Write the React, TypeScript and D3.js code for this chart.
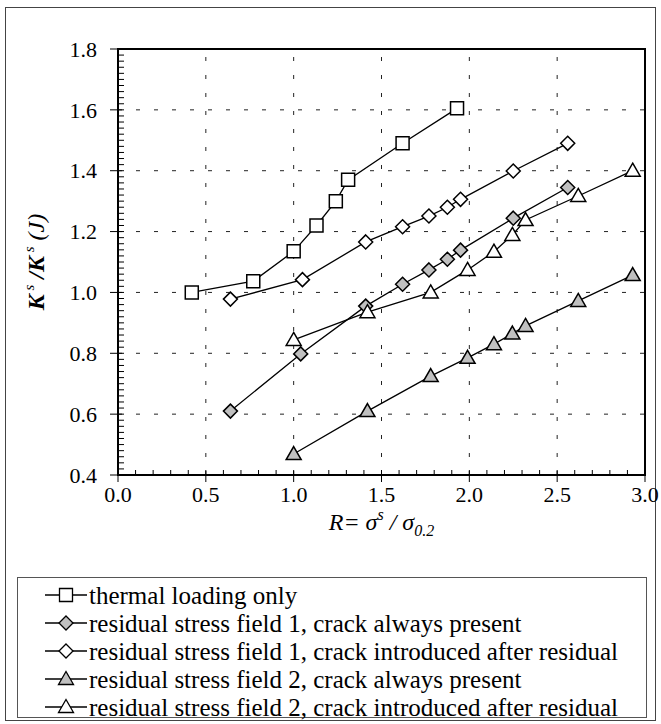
import React, { useEffect, useRef } from "react";
import * as d3 from "d3";

// data
const thermalX = [0.42, 0.77, 1.0, 1.13, 1.24, 1.31, 1.62, 1.93];
const thermalY = [1.0, 1.037, 1.135, 1.22, 1.3, 1.37, 1.49, 1.605];

const field1X = [0.64, 1.04, 1.41, 1.62, 1.77, 1.875, 1.95, 2.25, 2.56];
const field1PresentY = [0.61, 0.798, 0.955, 1.027, 1.074, 1.109, 1.139, 1.244, 1.345];
const field1AfterX = [0.64, 1.05, 1.41, 1.62, 1.77, 1.875, 1.95, 2.25, 2.56];
const field1AfterY = [0.978, 1.042, 1.166, 1.216, 1.251, 1.28, 1.306, 1.399, 1.49];

const field2X = [1.0, 1.42, 1.78, 1.99, 2.14, 2.245, 2.32, 2.62, 2.93];
const field2PresentY = [0.469, 0.61, 0.725, 0.785, 0.83, 0.865, 0.89, 0.972, 1.057];
const field2AfterY = [0.844, 0.935, 1.0, 1.074, 1.134, 1.189, 1.238, 1.317, 1.4];

const seriesNames = [
  "thermal loading only",
  "residual stress field 1, crack always present",
  "residual stress field 1, crack introduced after residual",
  "residual stress field 2, crack always present",
  "residual stress field 2, crack introduced after residual",
];

const xTicks = [0, 0.5, 1.0, 1.5, 2.0, 2.5, 3.0];
const yTicks = [0.4, 0.6, 0.8, 1.0, 1.2, 1.4, 1.6, 1.8];

const FONT = "'Liberation Serif', 'Times New Roman', 'DejaVu Serif', serif";
const GRAY = "#c0c0c0";

const App = () => {
  const svgRef = useRef(null);
  const width = 661;
  const height = 724;
  const plot = { left: 118, right: 645, top: 49, bottom: 475 };

  useEffect(() => {
    const svg = d3.select(svgRef.current);
    svg.selectAll("*").remove();

    const x = d3.scaleLinear().domain([0, 3]).range([plot.left, plot.right]);
    const y = d3.scaleLinear().domain([0.4, 1.8]).range([plot.bottom, plot.top]);

    const series = [
      { xs: thermalX, ys: thermalY, shape: "square", fill: "white" },
      { xs: field1X, ys: field1PresentY, shape: "diamond", fill: GRAY },
      { xs: field1AfterX, ys: field1AfterY, shape: "diamond", fill: "white" },
      { xs: field2X, ys: field2PresentY, shape: "triangle", fill: GRAY },
      { xs: field2X, ys: field2AfterY, shape: "triangle", fill: "white" },
    ];

    const symbolPath = (shape) => {
      if (shape === "square") return "M-6.5,-6.5H6.5V6.5H-6.5Z";
      if (shape === "diamond") return "M0,-7L7,0L0,7L-7,0Z";
      return "M0,-7.5L7.5,5.5H-7.5Z";
    };

    // outer frame
    svg
      .append("rect")
      .attr("x", 5.5)
      .attr("y", 7.5)
      .attr("width", 650)
      .attr("height", 713)
      .attr("fill", "white")
      .attr("stroke", "#444")
      .attr("stroke-width", 1);

    // grid
    const grid = svg.append("g").attr("stroke", "#222").attr("stroke-width", 1).attr("stroke-dasharray", "4,14");
    grid
      .selectAll(".gx")
      .data(xTicks.slice(1, -1))
      .enter()
      .append("line")
      .attr("x1", (d) => x(d))
      .attr("x2", (d) => x(d))
      .attr("y1", plot.bottom)
      .attr("y2", plot.top);
    grid
      .selectAll(".gy")
      .data(yTicks.slice(1, -1))
      .enter()
      .append("line")
      .attr("x1", plot.left)
      .attr("x2", plot.right)
      .attr("y1", (d) => y(d))
      .attr("y2", (d) => y(d));

    // minor ticks (inside)
    const minorX = d3.range(1, 30).map((i) => i / 10);
    svg
      .append("g")
      .selectAll("line")
      .data(minorX)
      .enter()
      .append("line")
      .attr("x1", (d) => x(d))
      .attr("x2", (d) => x(d))
      .attr("y1", plot.bottom)
      .attr("y2", plot.bottom - 5)
      .attr("stroke", "black");
    const minorY = d3.range(21, 90).map((i) => i / 50);
    svg
      .append("g")
      .selectAll("line")
      .data(minorY)
      .enter()
      .append("line")
      .attr("x1", plot.left)
      .attr("x2", plot.left + 6)
      .attr("y1", (d) => y(d))
      .attr("y2", (d) => y(d))
      .attr("stroke", "black");

    // major ticks (outside)
    svg
      .append("g")
      .selectAll("line")
      .data(xTicks)
      .enter()
      .append("line")
      .attr("x1", (d) => x(d))
      .attr("x2", (d) => x(d))
      .attr("y1", plot.bottom)
      .attr("y2", plot.bottom + 7)
      .attr("stroke", "black");
    svg
      .append("g")
      .selectAll("line")
      .data(yTicks)
      .enter()
      .append("line")
      .attr("x1", plot.left - 8)
      .attr("x2", plot.left)
      .attr("y1", (d) => y(d))
      .attr("y2", (d) => y(d))
      .attr("stroke", "black");

    // plot frame
    svg
      .append("rect")
      .attr("x", plot.left)
      .attr("y", plot.top)
      .attr("width", plot.right - plot.left)
      .attr("height", plot.bottom - plot.top)
      .attr("fill", "none")
      .attr("stroke", "black")
      .attr("stroke-width", 2);

    // tick labels
    svg
      .selectAll(".xl")
      .data(xTicks)
      .enter()
      .append("text")
      .attr("x", (d) => x(d))
      .attr("y", plot.bottom + 27)
      .attr("text-anchor", "middle")
      .style("font-family", FONT)
      .style("font-size", "22px")
      .text((d) => d3.format(".1f")(d));
    svg
      .selectAll(".yl")
      .data(yTicks)
      .enter()
      .append("text")
      .attr("x", plot.left - 21)
      .attr("y", (d) => y(d))
      .attr("dy", "0.35em")
      .attr("text-anchor", "end")
      .style("font-family", FONT)
      .style("font-size", "22px")
      .text((d) => d3.format(".1f")(d));

    // x axis title
    const xt = svg
      .append("text")
      .attr("x", (plot.left + plot.right) / 2)
      .attr("y", 530)
      .attr("text-anchor", "middle")
      .style("font-family", FONT)
      .style("font-size", "24px")
      .style("font-style", "italic");
    xt.append("tspan").text("R= σ");
    xt.append("tspan").attr("dy", -10).style("font-size", "16px").text("s");
    xt.append("tspan").attr("dy", 10).text(" / σ");
    xt.append("tspan").attr("dy", 6).style("font-size", "16px").text("0.2");

    // y axis title
    const yt = svg
      .append("text")
      .attr("transform", `translate(44, ${(plot.top + plot.bottom) / 2}) rotate(-90)`)
      .attr("text-anchor", "middle")
      .style("font-family", FONT)
      .style("font-size", "24px")
      .style("font-style", "italic")
      .style("font-weight", "bold");
    yt.append("tspan").text("K");
    yt.append("tspan").attr("dy", -10).style("font-size", "15px").style("font-weight", "normal").text(" s");
    yt.append("tspan").attr("dy", 10).text(" /K");
    yt.append("tspan").attr("dy", -10).style("font-size", "15px").style("font-weight", "normal").text(" s");
    yt.append("tspan").attr("dy", 10).style("font-weight", "normal").text(" (J)");

    // series lines and markers
    const line = d3
      .line()
      .x((d) => x(d[0]))
      .y((d) => y(d[1]));
    series.forEach((s) => {
      const pts = s.xs.map((v, i) => [v, s.ys[i]]);
      svg
        .append("path")
        .attr("d", line(pts))
        .attr("fill", "none")
        .attr("stroke", "black")
        .attr("stroke-width", 1.3);
      svg
        .append("g")
        .selectAll("path")
        .data(pts)
        .enter()
        .append("path")
        .attr("transform", (d) => `translate(${x(d[0])},${y(d[1])})`)
        .attr("d", symbolPath(s.shape))
        .attr("fill", s.fill)
        .attr("stroke", "black")
        .attr("stroke-width", 1.5);
    });

    // legend
    svg
      .append("rect")
      .attr("x", 17.5)
      .attr("y", 577.5)
      .attr("width", 629)
      .attr("height", 140)
      .attr("fill", "white")
      .attr("stroke", "#555")
      .attr("stroke-width", 1);
    series.forEach((s, i) => {
      const ly = 595 + i * 28;
      const g = svg.append("g");
      g.append("line")
        .attr("x1", 45)
        .attr("x2", 87)
        .attr("y1", ly)
        .attr("y2", ly)
        .attr("stroke", "black")
        .attr("stroke-width", 1.3);
      g.append("path")
        .attr("transform", `translate(66,${ly})`)
        .attr("d", symbolPath(s.shape))
        .attr("fill", s.fill)
        .attr("stroke", "black")
        .attr("stroke-width", 1.3);
      g.append("text")
        .attr("x", 89)
        .attr("y", ly)
        .attr("dy", "0.35em")
        .style("font-family", FONT)
        .style("font-size", "25px")
        .text(seriesNames[i]);
    });
  }, []);

  return <svg ref={svgRef} width={width} height={height} style={{ position: "absolute", left: 0, top: 0 }} />;
};

export default App;
